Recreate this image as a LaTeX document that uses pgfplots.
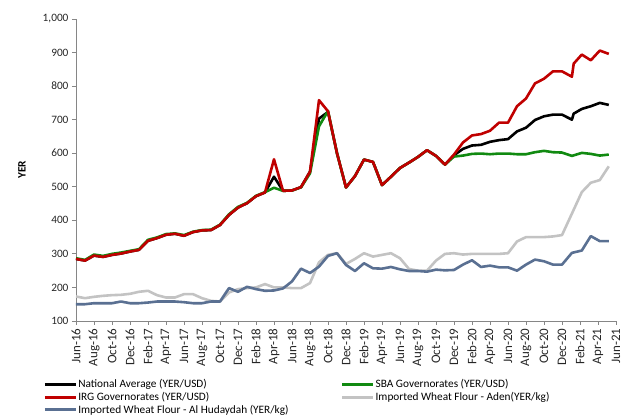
\documentclass[border=0pt]{standalone}
\usepackage{fontspec}
\setmainfont{Carlito}
\usepackage{pgfplots}
\usepackage{pgfplotstable}
\pgfplotsset{compat=1.18}

\definecolor{natcol}{HTML}{000000}
\definecolor{sbacol}{HTML}{118A11}
\definecolor{irgcol}{HTML}{C00000}
\definecolor{adencol}{HTML}{C3C3C3}
\definecolor{hudcol}{HTML}{5A7092}
\definecolor{axiscol}{HTML}{868686}

% month index: 0 = Jun-16
\pgfplotstableread{
m v
0 285
1 280
2 295
3 291
4 297
5 301
6 307
7 312
8 339
9 347
10 357
11 360
12 354
13 365
14 370
15 371
16 386
17 416
18 438
19 451
20 472
21 483
22 530
23 488
24 489
25 499
26 545
27 703
28 723
29 600
30 498
31 532
32 581
33 574
34 505
35 530
36 556
37 572
38 589
39 609
40 592
41 566
42 594
43 613
44 623
45 625
46 634
47 639
48 642
49 665
50 676
51 699
52 710
53 715
54 715
55.1 700
55.3 718
56.2 732
57.2 740
58.2 750
59.2 744
}\national

\pgfplotstableread{
m v
0 287
1 282
2 298
3 294
4 300
5 304
6 309
7 314
8 342
9 349
10 359
11 361
12 356
13 366
14 371
15 372
16 387
17 418
18 440
19 452
20 473
21 484
22 497
23 488
24 489
25 498
26 540
27 680
28 726
29 600
30 498
31 532
32 581
33 574
34 505
35 530
36 556
37 572
38 589
39 609
40 592
41 566
42 590
43 593
44 598
45 599
46 597
47 599
48 599
49 597
50 597
51 603
52 607
53 603
54 602
55.1 592
56.2 601
57.2 598
58.2 593
59.2 596
}\sba

\pgfplotstableread{
m v
0 285
1 280
2 295
3 291
4 297
5 301
6 307
7 312
8 339
9 347
10 357
11 360
12 354
13 365
14 370
15 371
16 386
17 416
18 438
19 451
20 472
21 483
22 582
23 488
24 489
25 499
26 545
27 758
28 725
29 600
30 498
31 532
32 581
33 574
34 505
35 530
36 556
37 572
38 589
39 609
40 592
41 566
42 596
43 632
44 653
45 657
46 667
47 691
48 691
49 740
50 763
51 808
52 822
53 844
54 844
55.1 828
55.3 867
56.2 894
57.2 877
58.2 906
59.2 896
}\irg

\pgfplotstableread{
m v
0 173
1 168
2 172
3 175
4 177
5 178
6 181
7 187
8 190
9 177
10 170
11 170
12 180
13 180
14 168
15 160
16 158
17 185
18 195
19 198
20 200
21 210
22 200
23 200
24 198
25 198
26 213
27 275
28 297
29 302
30 270
31 285
32 302
33 292
34 297
35 302
36 287
37 255
38 250
39 250
40 280
41 300
42 302
43 298
44 300
45 300
46 300
47 300
48 302
49 337
50 350
51 350
52 350
53 352
54 356
55.1 420
56.2 484
57.2 512
58.2 520
59.2 561
}\aden

\pgfplotstableread{
m v
0 150
1 150
2 153
3 153
4 153
5 158
6 153
7 153
8 155
9 158
10 158
11 158
12 156
13 153
14 153
15 158
16 158
17 198
18 187
19 202
20 195
21 190
22 191
23 197
24 218
25 256
26 243
27 262
28 294
29 302
30 267
31 249
32 272
33 257
34 256
35 261
36 254
37 249
38 249
39 247
40 253
41 251
42 252
43 268
44 281
45 261
46 265
47 260
48 260
49 250
50 268
51 283
52 278
53 268
54 268
55.1 303
56.2 310
57.2 353
58.2 338
59.2 338
}\hudaydah

\begin{document}
\begin{tikzpicture}
\begin{axis}[
  at={(0pt,0pt)}, anchor=south west,
  width=540pt, height=302pt, scale only axis,
  font=\fontsize{11.3}{13.5}\selectfont,
  xmin=0, xmax=60, ymin=100, ymax=1000,
  axis lines=left,
  axis line style={axiscol, line width=0.8pt, -},
  tick style={axiscol, line width=0.8pt},
  tick align=outside,
  major tick length=4pt,
  ytick={100,200,...,1000},
  xtick={0,2,...,60},
  xticklabels={Jun-16,Aug-16,Oct-16,Dec-16,Feb-17,Apr-17,Jun-17,Aug-17,Oct-17,Dec-17,Feb-18,Apr-18,Jun-18,Aug-18,Oct-18,Dec-18,Feb-19,Apr-19,Jun-19,Aug-19,Oct-19,Dec-19,Feb-20,Apr-20,Jun-20,Aug-20,Oct-20,Dec-20,Feb-21,Apr-21,Jun-21},
  xticklabel style={rotate=90, anchor=east, text=black!85,
    font=\fontsize{13}{15}\selectfont},
  yticklabel style={text=black!85},
  /pgf/number format/.cd, 1000 sep={,}, assume math mode=true,
  /pgfplots/.cd,
  ylabel={\textbf{YER}},
  ylabel style={at={(axis description cs:-0.1,0.5)}, anchor=center},
  clip=false,
  every axis plot/.append style={line width=2.6pt, line join=round},
  legend cell align=left,
  legend image code/.code={\draw[#1, line width=3pt] (0pt,0pt) -- (31pt,0pt);},
  legend style={at={(axis description cs:-0.061,-0.19)}, anchor=north west,
    draw=none, fill=none, legend columns=2, row sep=1pt,
    inner sep=0pt, nodes={inner sep=1pt},
    /tikz/every even column/.append style={column sep=51pt}},
]
\addplot[natcol] table[x=m, y=v] {\national};
\addlegendentry{National Average (YER/USD)}
\addplot[sbacol] table[x=m, y=v] {\sba};
\addlegendentry{SBA Governorates (YER/USD)}
\addplot[irgcol] table[x=m, y=v] {\irg};
\addlegendentry{IRG Governorates (YER/USD)}
\addplot[adencol] table[x=m, y=v] {\aden};
\addlegendentry{Imported Wheat Flour - Aden(YER/kg)}
\addplot[hudcol] table[x=m, y=v] {\hudaydah};
\addlegendentry{Imported Wheat Flour - Al Hudaydah (YER/kg)}
\end{axis}
\pgfresetboundingbox
\useasboundingbox (-76pt,-98pt) rectangle (546pt,321pt);
\end{tikzpicture}
\end{document}
